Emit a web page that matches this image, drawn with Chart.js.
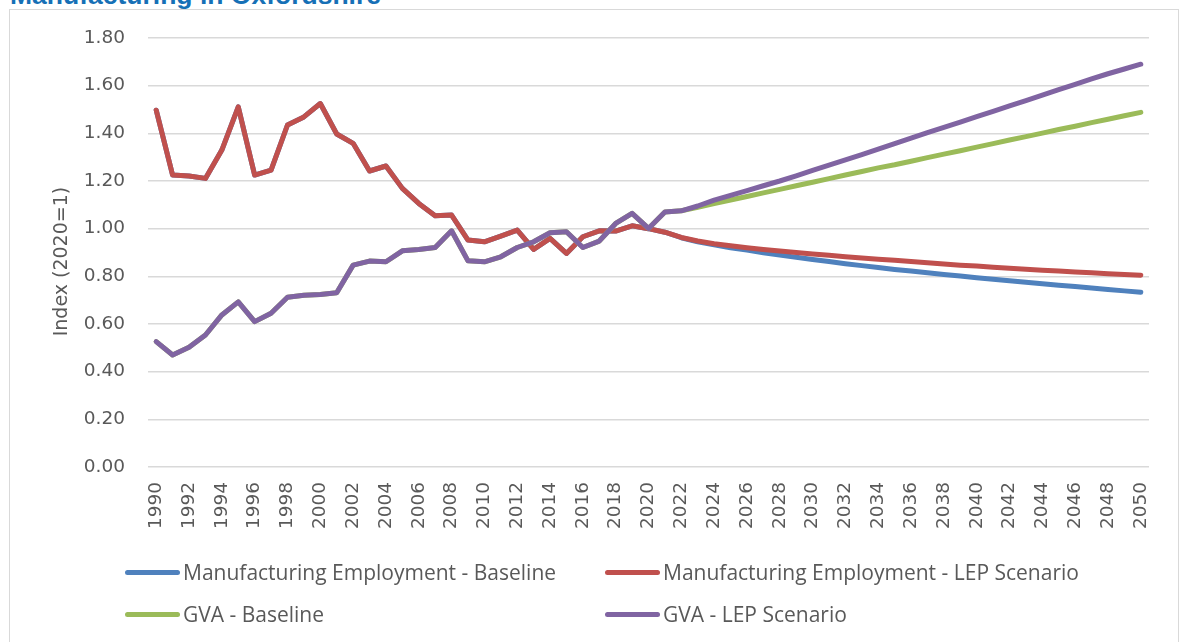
<!DOCTYPE html>
<html>
<head>
<meta charset="utf-8">
<script src="https://cdn.jsdelivr.net/npm/chart.js@4.4.0/dist/chart.umd.min.js"></script>
<style>
  html, body { margin: 0; padding: 0; background: #fff; overflow: hidden; }
  #wrap { position: relative; width: 1189px; height: 642px; overflow: hidden; }
  #frame { position: absolute; left: 9px; top: 9px; width: 1170px; height: 700px; border: 1px solid #d9d9d9; box-sizing: border-box; }
  #title { position: absolute; left: 10px; top: -18px; font: bold 26.5px "Liberation Sans", Arial, sans-serif; line-height: 26px; color: #1670b6; white-space: nowrap; }
  #chart { position: absolute; left: 0; top: 0; }
  .legend-item { position: absolute; display: flex; align-items: center; height: 28px; font: 21px "Open Sans", sans-serif; color: #595959; white-space: nowrap; }
  .legend-item .swatch { display: inline-block; width: 55px; height: 5px; border-radius: 3px; margin-right: 3px; }
</style>
</head>
<body>
<div id="wrap">
  <div id="frame"></div>
  <div id="title">Manufacturing in Oxfordshire</div>
  <canvas id="chart" width="1189" height="642"></canvas>
  <div id="legend"></div>
</div>
<script>
const years = ['1990','1991','1992','1993','1994','1995','1996','1997','1998','1999',
  '2000','2001','2002','2003','2004','2005','2006','2007','2008','2009',
  '2010','2011','2012','2013','2014','2015','2016','2017','2018','2019',
  '2020','2021','2022','2023','2024','2025','2026','2027','2028','2029',
  '2030','2031','2032','2033','2034','2035','2036','2037','2038','2039',
  '2040','2041','2042','2043','2044','2045','2046','2047','2048','2049','2050'];

// 1990-2020 history (shared by both scenarios)
const employmentHistory = [1.497, 1.225, 1.221, 1.211, 1.330, 1.511, 1.225, 1.246, 1.435, 1.469,
  1.525, 1.397, 1.358, 1.242, 1.263, 1.169, 1.106, 1.054, 1.057, 0.952,
  0.945, 0.969, 0.994, 0.913, 0.959, 0.896, 0.966, 0.991, 0.990, 1.012, 1.000];
const gvaHistory = [0.526, 0.470, 0.502, 0.554, 0.638, 0.693, 0.610, 0.645, 0.712, 0.721,
  0.724, 0.731, 0.847, 0.864, 0.861, 0.907, 0.913, 0.921, 0.991, 0.865,
  0.861, 0.882, 0.921, 0.945, 0.983, 0.987, 0.921, 0.948, 1.022, 1.064, 1.001];

// 2021-2050 projections
const employmentBaseline = [0.985, 0.962, 0.945, 0.932, 0.920, 0.910, 0.899, 0.889, 0.880, 0.871,
  0.862, 0.853, 0.845, 0.837, 0.829, 0.822, 0.815, 0.808, 0.801, 0.794,
  0.788, 0.781, 0.775, 0.769, 0.763, 0.757, 0.751, 0.745, 0.739, 0.733];
const employmentLep = [0.985, 0.963, 0.948, 0.937, 0.928, 0.920, 0.913, 0.906, 0.900, 0.894,
  0.888, 0.882, 0.877, 0.872, 0.867, 0.862, 0.857, 0.852, 0.847, 0.843,
  0.838, 0.834, 0.830, 0.826, 0.822, 0.818, 0.815, 0.811, 0.808, 0.805];
const gvaBaseline = [1.070, 1.075, 1.090, 1.105, 1.120, 1.135, 1.150, 1.165, 1.180, 1.195,
  1.210, 1.225, 1.240, 1.255, 1.268, 1.283, 1.298, 1.313, 1.327, 1.342,
  1.357, 1.372, 1.386, 1.401, 1.416, 1.430, 1.445, 1.459, 1.474, 1.488];
const gvaLep = [1.070, 1.075, 1.095, 1.120, 1.140, 1.160, 1.180, 1.200, 1.222, 1.245,
  1.267, 1.289, 1.311, 1.334, 1.357, 1.380, 1.403, 1.425, 1.447, 1.470,
  1.492, 1.515, 1.537, 1.560, 1.583, 1.605, 1.628, 1.650, 1.670, 1.690];

const seriesNames = ['Manufacturing Employment - Baseline', 'Manufacturing Employment - LEP Scenario',
  'GVA - Baseline', 'GVA - LEP Scenario'];
const seriesColors = ['#4f81bd', '#c0504d', '#9bbb59', '#8064a2'];

const axisFont = { family: 'DejaVu Sans', size: 18.5 };
const textColor = '#595959';

const ctx = document.getElementById('chart').getContext('2d');
const chart = new Chart(ctx, {
    type: 'line',
    data: {
        labels: years,
        datasets: [
            { label: seriesNames[0], data: employmentHistory.concat(employmentBaseline), borderColor: seriesColors[0], order: 4 },
            { label: seriesNames[1], data: employmentHistory.concat(employmentLep), borderColor: seriesColors[1], order: 3 },
            { label: seriesNames[2], data: gvaHistory.concat(gvaBaseline), borderColor: seriesColors[2], order: 2 },
            { label: seriesNames[3], data: gvaHistory.concat(gvaLep), borderColor: seriesColors[3], order: 1 }
        ]
    },
    options: {
        responsive: false,
        animation: false,
        layout: { padding: { left: 0, right: 40, top: 38, bottom: 0 } },
        plugins: {
            legend: { display: false },
            tooltip: { enabled: false }
        },
        elements: {
            point: { radius: 0 },
            line: { tension: 0, borderWidth: 5, borderCapStyle: 'round', borderJoinStyle: 'round' }
        },
        scales: {
            x: {
                offset: true,
                grid: { display: false, drawTicks: false },
                border: { display: false },
                ticks: {
                    autoSkip: false,
                    minRotation: 90,
                    maxRotation: 90,
                    padding: 15,
                    color: textColor,
                    font: axisFont,
                    callback: function (v, i) { return i % 2 === 0 ? this.getLabelForValue(v) : ''; }
                },
                afterFit: s => { s.height = 175; }
            },
            y: {
                min: 0,
                max: 1.8,
                ticks: {
                    stepSize: 0.2,
                    padding: 23,
                    color: textColor,
                    font: axisFont,
                    callback: v => v.toFixed(2)
                },
                grid: { color: '#d9d9d9', lineWidth: 1.5, drawTicks: false },
                border: { display: false },
                title: {
                    display: true,
                    // trailing spaces nudge the rotated title a little lower, as in the original
                    text: 'Index (2020=1)   ',
                    color: textColor,
                    font: { family: 'DejaVu Sans', size: 19 },
                    padding: { top: 51, bottom: 0 }
                },
                afterFit: s => { s.width = 148; }
            }
        }
    }
});

// legend laid out in two columns like the original
const legendSpots = [[125, 558], [605, 558], [125, 600], [605, 600]];
const legendBox = document.getElementById('legend');
chart.data.datasets.forEach((ds, i) => {
    const item = document.createElement('div');
    item.className = 'legend-item';
    item.style.left = legendSpots[i][0] + 'px';
    item.style.top = legendSpots[i][1] + 'px';
    const sw = document.createElement('span');
    sw.className = 'swatch';
    sw.style.background = ds.borderColor;
    item.appendChild(sw);
    item.appendChild(document.createTextNode(ds.label));
    legendBox.appendChild(item);
});
</script>
</body>
</html>
